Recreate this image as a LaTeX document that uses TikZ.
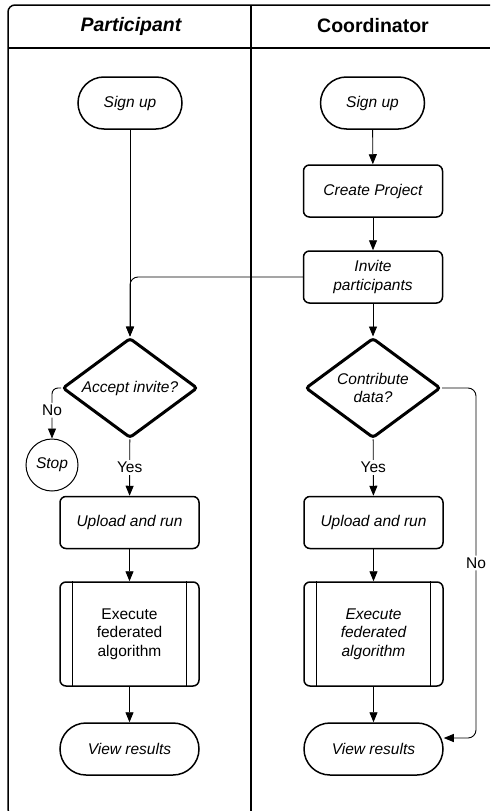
\documentclass[tikz,border=0pt]{standalone}
\usepackage{fontspec}
\setmainfont{Liberation Sans}
\usetikzlibrary{shapes.geometric, arrows.meta}

\begin{document}
\begin{tikzpicture}[x=1pt, y=-1pt,
        font=\fontsize{15.5}{18.5}\selectfont,
        >={Triangle[length=10pt,width=8pt]},
        conn/.style={->, line width=0.9pt, rounded corners=8pt},
        term/.style={draw, line width=1.5pt, rounded corners=26pt,
            minimum width=139pt, minimum height=52pt, font=\fontsize{15.5}{18.5}\selectfont\itshape},
        proc/.style={draw, line width=1.5pt, rounded corners=6pt, align=center,
            minimum width=139pt, minimum height=52pt, font=\fontsize{15.5}{18.5}\selectfont\itshape},
        decide/.style={draw, diamond, aspect=1.35, line width=3pt, rounded corners=3pt, inner sep=0pt,
            align=center, minimum width=135pt, minimum height=100pt,
            font=\fontsize{15.5}{18.5}\selectfont\itshape},
        lbl/.style={fill=white, inner sep=2pt}
    ]
    \useasboundingbox (0,0) rectangle (490,811);
    \clip (0,0) rectangle (490,811);

    % lanes
    \draw[line width=1.5pt, rounded corners=7pt] (8,5) rectangle (530,816);
    \draw[line width=1.5pt] (8,48) -- (490,48);
    \draw[line width=1.5pt] (251,5) -- (251,811);
    \node[font=\fontsize{19.5}{22}\selectfont\bfseries\itshape] (hpart) at (131,26) {Participant};
    \node[font=\fontsize{19.5}{22}\selectfont\bfseries] (hcoord) at (373,26) {Coordinator};

    % participant
    \node[term, minimum width=104pt] (su1) at (130,103) {Sign up};
    \node[decide] (acc) at (130,388) {Accept invite?};
    \node[draw, circle, line width=1pt, minimum size=52pt, inner sep=0pt,
        font=\fontsize{15.5}{18.5}\selectfont\itshape] (stop) at (52,465) {Stop};
    \node[proc] (up1) at (129.5,522.5) {Upload and run};
    \node[proc, minimum height=104pt, font=\fontsize{15.5}{18.5}\selectfont] (ex1) at (129.5,634)
        {Execute\\federated\\algorithm};
    \node[term] (vr1) at (129.5,749) {View results};

    % coordinator
    \node[term, minimum width=104pt] (su2) at (372.5,103) {Sign up};
    \node[proc] (cp) at (373,191) {Create Project};
    \node[proc] (inv) at (373,277) {Invite\\participants};
    \node[decide] (cd) at (373,388) {Contribute\\data?};
    \node[proc] (up2) at (373.5,522.5) {Upload and run};
    \node[proc, minimum height=104pt] (ex2) at (373.5,634) {Execute\\federated\\algorithm};
    \node[term] (vr2) at (373.5,749) {View results};

    % side bars
    \foreach \n in {ex1, ex2} {
        \draw[line width=1pt] ([xshift=13.5pt]\n.north west) -- ([xshift=13.5pt]\n.south west);
        \draw[line width=1pt] ([xshift=-13.5pt]\n.north east) -- ([xshift=-13.5pt]\n.south east);
    }

    % flow
    \draw[conn] (su1) -- (acc);
    \draw[conn] (inv.west) -| (acc.north);
    \draw[conn, rounded corners=6pt] (acc.west) -| node[lbl, pos=0.72] {No} (stop.north);
    \draw[conn] (acc) -- node[lbl] {Yes} (up1);
    \draw[conn] (up1) -- (ex1);
    \draw[conn] (ex1) -- (vr1);

    \draw[conn] (su2) -- (cp);
    \draw[conn] (cp) -- (inv);
    \draw[conn] (inv) -- (cd);
    \draw[conn] (cd) -- node[lbl] {Yes} (up2);
    \draw[conn] (up2) -- (ex2);
    \draw[conn] (ex2) -- (vr2);
    \draw[conn] (cd.east) -- ++(34,0) |- node[lbl, pos=0.25] {No} ([yshift=11pt]vr2.east);
\end{tikzpicture}
\end{document}
